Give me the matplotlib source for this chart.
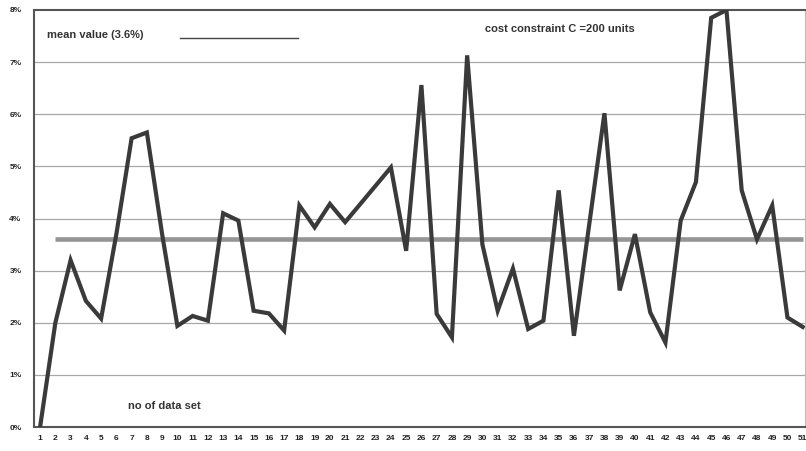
import numpy as np
import matplotlib.pyplot as plt

plt.rcParams.update({'font.family': ['Liberation Sans', 'DejaVu Sans'], 'font.weight': 'bold'})

# data set number and percentage values
data_set = list(range(1, 52))
values = [0.0, 2.0, 3.2, 2.42, 2.08, 3.7, 5.54, 5.65, 3.7, 1.94,
          2.13, 2.04, 4.1, 3.96, 2.23, 2.18, 1.85, 4.25, 3.83, 4.28,
          3.93, 4.28, 4.63, 4.98, 3.38, 6.56, 2.17, 1.72, 7.13, 3.5,
          2.23, 3.04, 1.88, 2.04, 4.54, 1.75, 3.88, 6.02, 2.62, 3.7,
          2.2, 1.62, 3.96, 4.7, 7.85, 8.0, 4.54, 3.6, 4.25, 2.1, 1.92]
mean_value = 3.6
y_ticks = [0, 1, 2, 3, 4, 5, 6, 7, 8]

fig = plt.figure(figsize=(8.06, 4.51), dpi=100)
ax = fig.add_axes([34 / 806, 1 - 427 / 451, 771 / 806, 417 / 451])

# horizontal grid
for yv in y_ticks[1:-1]:
    ax.axhline(yv, color='#a8a8a8', lw=0.9, zorder=1)

# mean line from data set 2 to 51
ax.plot([data_set[1], data_set[-1]], [mean_value, mean_value], color='#959595', lw=3.3, zorder=2,
        solid_capstyle='butt')
ax.plot(data_set, values, color='#3a3a3a', lw=3.0, zorder=3, solid_joinstyle='miter')

ax.set_xlim(0.6, 51.15)
ax.set_ylim(0, 8)
ax.set_xticks(data_set)
ax.set_xticklabels([str(d) for d in data_set], fontsize=6, fontweight='bold', color='#222222')
ax.set_yticks(y_ticks)
ax.set_yticklabels([f'{v}%' for v in y_ticks], fontsize=6, fontweight='bold', color='#222222')
ax.tick_params(length=0, pad=6)
ax.tick_params(axis='y', pad=9)

for side in ['left', 'bottom', 'top']:
    ax.spines[side].set_color('#555555')
    ax.spines[side].set_linewidth(1.5)
ax.spines['right'].set_color('#bbbbbb')
ax.spines['right'].set_linewidth(0.8)

# legend-like annotations
ax.text(0.017, 0.94, 'mean value (3.6%)', transform=ax.transAxes, fontsize=8, fontweight='bold',
        color='#333333', va='center')
ax.plot([0.19, 0.342], [0.932, 0.932], transform=ax.transAxes, color='#444444', lw=1.0)
ax.text(0.585, 0.955, 'cost constraint C =200 units', transform=ax.transAxes, fontsize=8,
        fontweight='bold', color='#333333', va='center')
ax.text(0.122, 0.05, 'no of data set', transform=ax.transAxes, fontsize=8, fontweight='bold',
        color='#333333', va='center')

fig.savefig('out.png', dpi=100)
